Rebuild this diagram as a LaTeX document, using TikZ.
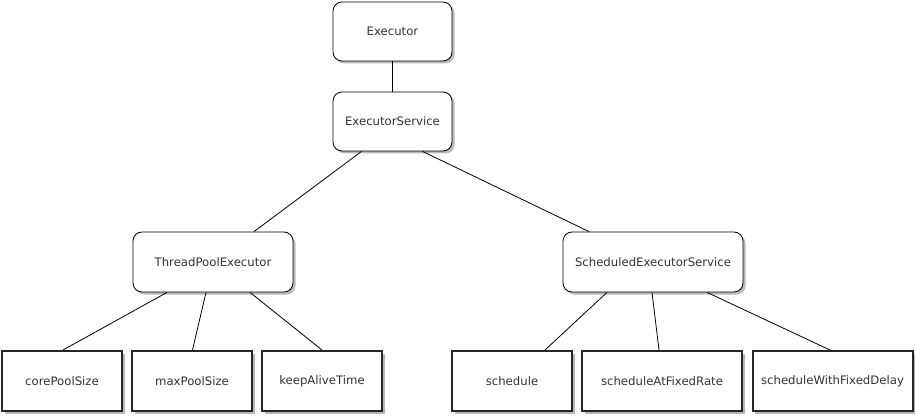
\documentclass[tikz,border=0pt]{standalone}
\usepackage{fontspec}
\setmainfont{DejaVu Sans}
\usetikzlibrary{shadows,calc}
\definecolor{txt}{HTML}{333333}
\tikzset{
  base/.style={draw=black, fill=white, text=txt, font=\fontsize{11.7}{14}\selectfont,
    inner sep=0pt, drop shadow={shadow xshift=2.5pt, shadow yshift=-2.5pt, fill=black, opacity=0.28}},
  rbox/.style={base, rounded corners=9pt, line width=0.8pt},
  sbox/.style={base, line width=2pt, draw=black!85},
  conn/.style={draw=black, line width=0.8pt}
}
\begin{document}
\begin{tikzpicture}[x=1pt,y=-1pt]
\useasboundingbox (0,0) rectangle (916,417);
\node[rbox, minimum width=119pt, minimum height=59pt] (ex) at (392.5,31.5) {Executor};
\node[rbox, minimum width=119pt, minimum height=59pt] (es) at (392.5,121.5) {ExecutorService};
\node[rbox, minimum width=160pt, minimum height=60pt] (tpe) at (213,262) {ThreadPoolExecutor};
\node[rbox, minimum width=180pt, minimum height=60pt] (ses) at (653,262) {ScheduledExecutorService};
\node[sbox, minimum width=120pt, minimum height=60pt] (cps) at (62,381) {corePoolSize};
\node[sbox, minimum width=120pt, minimum height=60pt] (mps) at (192,381) {maxPoolSize};
\node[sbox, minimum width=120pt, minimum height=60pt] (kat) at (322,381) {keepAliveTime};
\node[sbox, minimum width=120pt, minimum height=60pt] (sch) at (512,381) {schedule};
\node[sbox, minimum width=160pt, minimum height=60pt] (safr) at (662,381) {scheduleAtFixedRate};
\node[sbox, minimum width=160pt, minimum height=60pt] (swfd) at (832.5,381) {scheduleWithFixedDelay};
\path[conn] (ex.south) -- (es.north);
\path[conn] ($(es.south)+(-31,0)$) -- ($(tpe.north)+(41,0)$);
\path[conn] ($(es.south)+(30,0)$) -- ($(ses.north)+(-64,0)$);
\path[conn] ($(tpe.south)+(-46,0)$) -- ($(cps.north)+(1,0)$);
\path[conn] ($(tpe.south)+(-7,0)$) -- ($(mps.north)+(0.5,0)$);
\path[conn] ($(tpe.south)+(37,0)$) -- (kat.north);
\path[conn] ($(ses.south)+(-46,0)$) -- ($(sch.north)+(33,0)$);
\path[conn] ($(ses.south)+(-1,0)$) -- ($(safr.north)+(-3,0)$);
\path[conn] ($(ses.south)+(54,0)$) -- ($(swfd.north)+(-2.5,0)$);
\end{tikzpicture}
\end{document}
